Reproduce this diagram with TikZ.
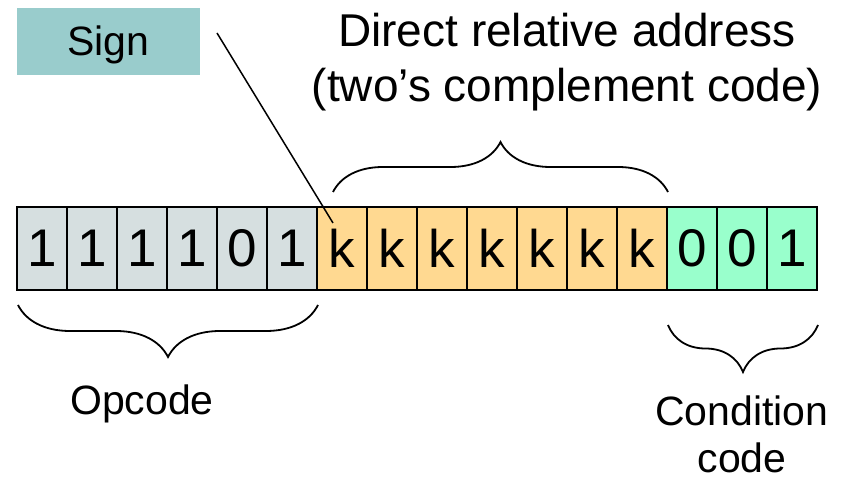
\documentclass[tikz,border=0pt]{standalone}
\usepackage{fontspec}
\setmainfont{Liberation Sans}
\usetikzlibrary{decorations.pathreplacing}
\definecolor{opgray}{HTML}{D6DFE0}
\definecolor{addrorange}{HTML}{FFD991}
\definecolor{condgreen}{HTML}{99FFCC}
\definecolor{signteal}{HTML}{99CCCC}
\tikzset{
  bitcell/.style={draw=black, line width=1.5pt, minimum width=50pt, minimum height=83pt,
    inner sep=0pt, font=\fontsize{53}{53}\selectfont},
  label/.style={inner sep=0pt, align=center, font=\fontsize{41}{47}\selectfont},
  curly/.style={decorate, line width=1.8pt, decoration={brace, amplitude=#1}},
}
\begin{document}
\begin{tikzpicture}[x=1pt, y=-1pt]
\useasboundingbox (0,0) rectangle (847,478);

% instruction word: opcode, relative address, condition code
\foreach \i/\b/\c in {1/1/opgray,2/1/opgray,3/1/opgray,4/1/opgray,5/0/opgray,6/1/opgray,
  7/k/addrorange,8/k/addrorange,9/k/addrorange,10/k/addrorange,11/k/addrorange,12/k/addrorange,13/k/addrorange,
  14/0/condgreen,15/0/condgreen,16/1/condgreen}
  \node[bitcell, fill=\c] (c\i) at ({42+50*(\i-1)}, 248.5) {\b};

% sign label and its pointer
\node[fill=signteal, minimum width=183pt, minimum height=67pt, inner sep=0pt,
  text height=29pt, text depth=0pt,
  font=\fontsize{41}{47}\selectfont] (sign) at (108.5, 41.5) {Sign};
\coordinate (signtail) at (217, 33);
\coordinate (signhead) at (333, 223);
\draw[line width=1.5pt] (signtail) -- (signhead);

% braces
\coordinate (addrL) at (333, 192);
\coordinate (addrR) at (668, 192);
\draw[curly=50pt] (addrL) -- (addrR);
\coordinate (opL) at (18, 305);
\coordinate (opR) at (318, 305);
\draw[curly=52pt] (opR) -- (opL);
\coordinate (ccL) at (668, 325);
\coordinate (ccR) at (818, 325);
\draw[curly=47pt] (ccR) -- (ccL);

% labels
\node[label, font=\fontsize{46}{55}\selectfont] (addr) at (567, 62) {Direct relative address\\(two’s complement code)};
\node[label] (opcode) at (142, 404) {Opcode};
\node[label] (cond) at (742, 434) {Condition\\code};
\end{tikzpicture}
\end{document}
